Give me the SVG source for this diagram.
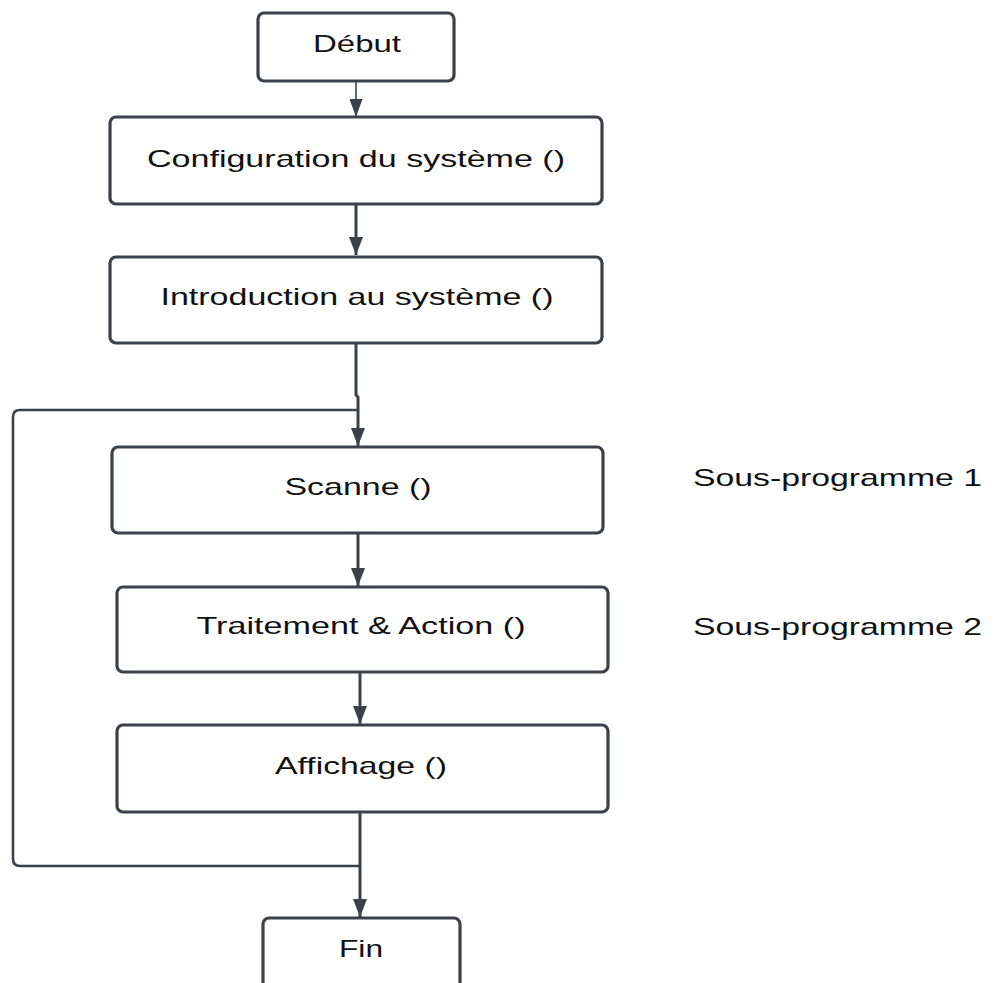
<svg xmlns="http://www.w3.org/2000/svg" width="993" height="983" viewBox="0 0 993 983">
<defs>
<style>
.box{fill:#ffffff;stroke:#3b4149;stroke-width:3.2}
.lbl{font-family:"Liberation Sans",Arial,sans-serif;font-size:24px;fill:#111111;text-anchor:middle}
.side{font-family:"Liberation Sans",Arial,sans-serif;font-size:24px;fill:#111111}
.conn{fill:none;stroke:#3b4149;stroke-width:3}
.thin{fill:none;stroke:#3b4149;stroke-width:1.6}
</style>
<marker id="ah" viewBox="0 0 18 14" refX="18" refY="7" markerWidth="18" markerHeight="14" markerUnits="userSpaceOnUse" orient="auto">
<path d="M0,0 L18,7 L0,14 z" fill="#3b4149"/>
</marker>
<marker id="ahs" viewBox="0 0 18 13" refX="18" refY="6.5" markerWidth="18" markerHeight="13" markerUnits="userSpaceOnUse" orient="auto">
<path d="M0,0 L18,6.5 L0,13 z" fill="#3b4149"/>
</marker>
</defs>
<rect width="993" height="983" fill="#ffffff"/>
<g id="connectors">
<path class="thin" d="M356,82 V117" marker-end="url(#ahs)"/>
<path class="conn" d="M356,204 V255" marker-end="url(#ah)"/>
<path class="conn" d="M356,343 V395 L358,397 V446" marker-end="url(#ah)"/>
<path class="conn" d="M358,533 V586" marker-end="url(#ah)"/>
<path class="conn" d="M360,672 V724" marker-end="url(#ah)"/>
<path class="conn" d="M360,812 V917" marker-end="url(#ah)"/>
<path class="conn" d="M360,866 H20 Q13,866 13,859 V417 Q13,410 20,410 H358" style="stroke-width:2.6"/>
</g>
<g id="debut">
<rect class="box" x="258" y="13" width="196" height="68" rx="6"/>
<text class="lbl" x="357" y="52" textLength="88" lengthAdjust="spacingAndGlyphs">Début</text>
</g>
<g id="configuration">
<rect class="box" x="110" y="117" width="492" height="87" rx="6"/>
<text class="lbl" x="356" y="167" textLength="418" lengthAdjust="spacingAndGlyphs">Configuration du système ()</text>
</g>
<g id="introduction">
<rect class="box" x="110" y="257" width="492" height="86" rx="6"/>
<text class="lbl" x="357" y="305" textLength="393" lengthAdjust="spacingAndGlyphs">Introduction au système ()</text>
</g>
<g id="scanne">
<rect class="box" x="112" y="447" width="491" height="86" rx="6"/>
<text class="lbl" x="358" y="495" textLength="147" lengthAdjust="spacingAndGlyphs">Scanne ()</text>
</g>
<g id="traitement">
<rect class="box" x="117" y="587" width="491" height="85" rx="6"/>
<text class="lbl" x="361" y="634" textLength="329" lengthAdjust="spacingAndGlyphs">Traitement &amp; Action ()</text>
</g>
<g id="affichage">
<rect class="box" x="117" y="725" width="491" height="87" rx="6"/>
<text class="lbl" x="361" y="774" textLength="172" lengthAdjust="spacingAndGlyphs">Affichage ()</text>
</g>
<g id="fin">
<rect class="box" x="263" y="918" width="197" height="90" rx="6"/>
<text class="lbl" x="361" y="957" textLength="44" lengthAdjust="spacingAndGlyphs">Fin</text>
</g>
<g id="sous-programme-1">
<text class="side" x="693" y="486" textLength="289" lengthAdjust="spacingAndGlyphs">Sous-programme 1</text>
</g>
<g id="sous-programme-2">
<text class="side" x="693" y="635" textLength="289" lengthAdjust="spacingAndGlyphs">Sous-programme 2</text>
</g>
</svg>
